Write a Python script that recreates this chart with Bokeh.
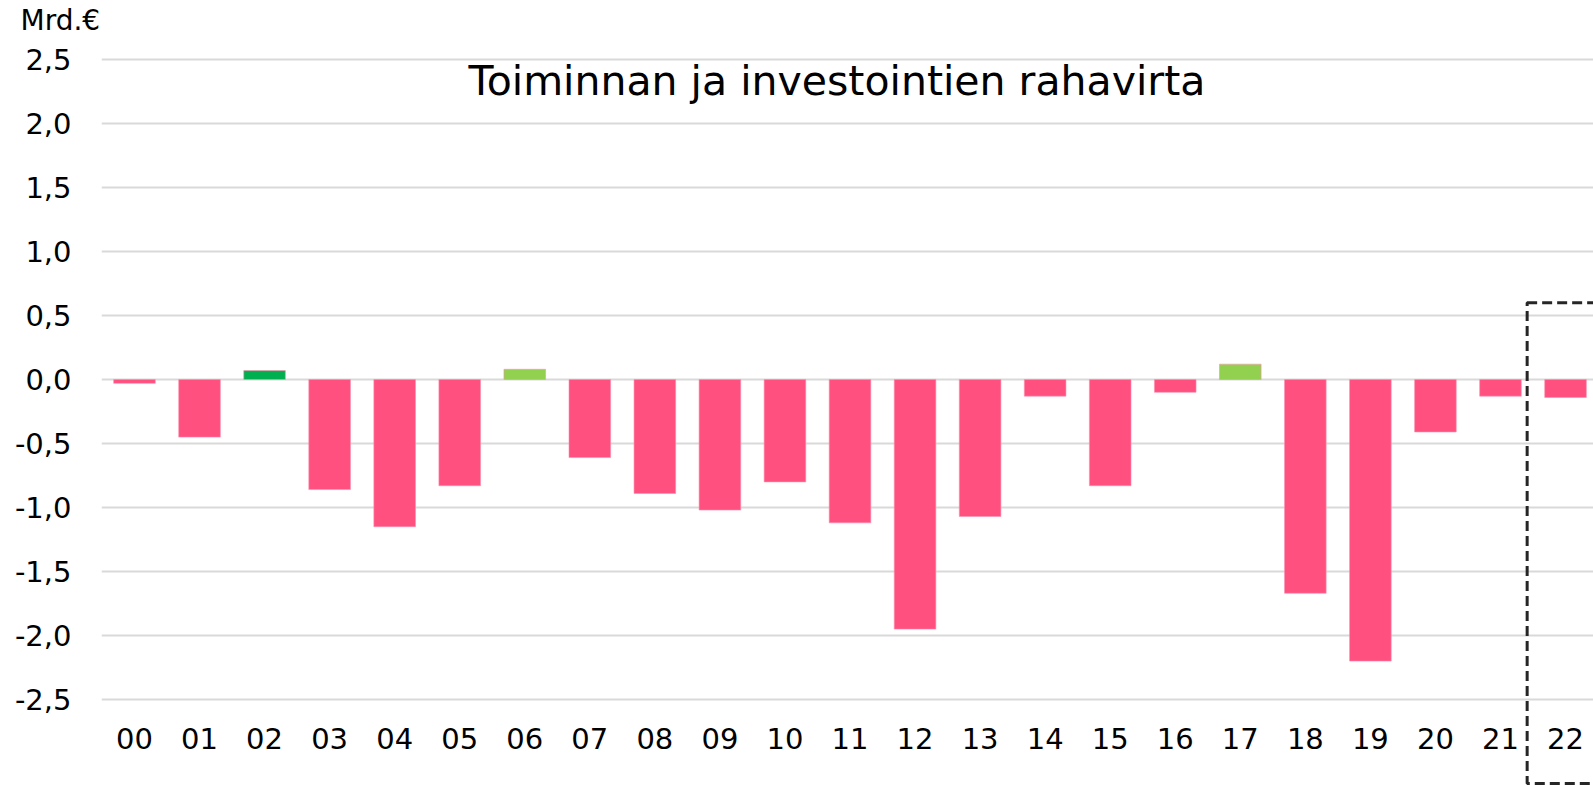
from bokeh.plotting import figure
from bokeh.models import Range1d, Label, BoxAnnotation, ColumnDataSource, FixedTicker
from bokeh.embed import file_html
from bokeh.resources import INLINE

years = ["00", "01", "02", "03", "04", "05", "06", "07", "08", "09", "10",
         "11", "12", "13", "14", "15", "16", "17", "18", "19", "20", "21", "22"]
values = [-0.03, -0.45, 0.07, -0.86, -1.15, -0.83, 0.08, -0.61, -0.89, -1.02, -0.80,
          -1.12, -1.95, -1.07, -0.13, -0.83, -0.10, 0.12, -1.67, -2.20, -0.41, -0.13, -0.14]
colors = ["#FF5080", "#FF5080", "#00B050", "#FF5080", "#FF5080", "#FF5080", "#92D050",
          "#FF5080", "#FF5080", "#FF5080", "#FF5080", "#FF5080", "#FF5080", "#FF5080",
          "#FF5080", "#FF5080", "#FF5080", "#92D050", "#FF5080", "#FF5080", "#FF5080",
          "#FF5080", "#FF5080"]
y_ticks = [-2.5, -2.0, -1.5, -1.0, -0.5, 0.0, 0.5, 1.0, 1.5, 2.0, 2.5]
title_text = "Toiminnan ja investointien rahavirta"
unit_text = "Mrd.€"

FONT = "DejaVu Sans"

src = ColumnDataSource(dict(x=list(range(len(years))), top=values, color=colors))

p = figure(width=1593, height=785, output_backend="svg", toolbar_location=None,
           x_range=Range1d(-0.507, 22.43), y_range=Range1d(-3.172, 2.68),
           min_border_left=101, min_border_right=0, min_border_top=36, min_border_bottom=0)
p.outline_line_color = None
p.background_fill_color = "white"
p.border_fill_color = "white"

p.vbar(x="x", top="top", bottom=0, width=0.64, fill_color="color",
       line_color="#FF8FAE", line_width=1, line_alpha=0.6, source=src)

p.xaxis.ticker = FixedTicker(ticks=list(range(len(years))))
p.xaxis.major_label_overrides = {i: y for i, y in enumerate(years)}
p.xaxis.fixed_location = -2.52
p.yaxis.ticker = FixedTicker(ticks=y_ticks)
p.yaxis.major_label_overrides = {t: f"{t:.1f}".replace(".", ",") for t in y_ticks}

for ax in (p.xaxis, p.yaxis):
    ax.axis_line_color = None
    ax.major_tick_line_color = None
    ax.minor_tick_line_color = None
    ax.major_tick_out = 0
    ax.major_tick_in = 0
    ax.minor_tick_out = 0
    ax.minor_tick_in = 0
    ax.major_label_text_font = FONT
    ax.major_label_text_font_size = "29px"
    ax.major_label_text_color = "#000000"
p.xaxis.major_label_standoff = 26
p.yaxis.major_label_standoff = 30

p.xgrid.grid_line_color = None
p.ygrid.grid_line_color = "#D9D9D9"
p.ygrid.grid_line_width = 2

p.title.text = unit_text
p.title.align = "left"
p.title.vertical_align = "bottom"
p.title.offset = -81
p.title.standoff = 0
p.title.text_font = FONT
p.title.text_font_size = "28px"
p.title.text_font_style = "normal"
p.title.text_color = "#000000"

p.add_layout(Label(x=10.8, y=2.33, text=title_text, text_font=FONT, text_font_size="41px",
                   text_align="center", text_baseline="alphabetic", text_color="#000000"))

p.add_layout(BoxAnnotation(left=21.41, right=23.5, top=0.60, bottom=-3.156,
                           fill_alpha=0, line_color="#262626", line_alpha=1.0, line_width=3,
                           line_dash="10 5"))

open("out.html", "w").write(file_html(p, INLINE))
